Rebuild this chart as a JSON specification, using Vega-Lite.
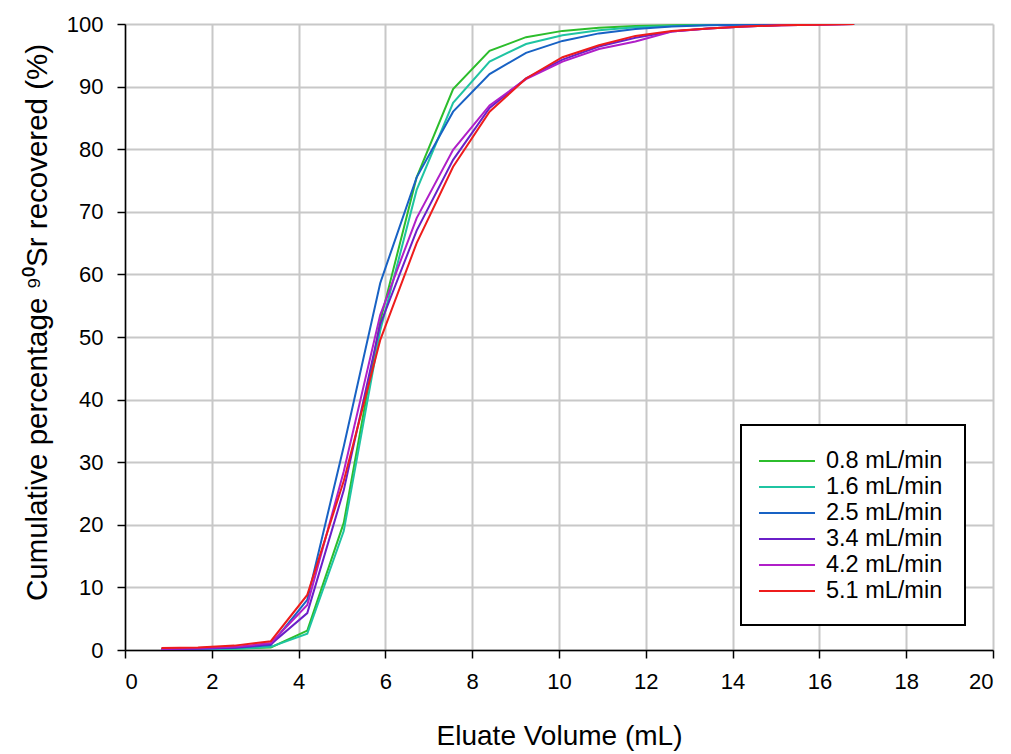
{
  "$schema": "https://vega.github.io/schema/vega-lite/v6.json",
  "width": 868,
  "height": 626,
  "autosize": "none",
  "padding": {"left": 125, "top": 24, "right": 18, "bottom": 104},
  "background": "white",
  "config": {
    "font": "Liberation Sans",
    "view": {"stroke": null},
    "axis": {
      "grid": true,
      "gridColor": "#c8c8c8",
      "gridWidth": 2,
      "domainColor": "black",
      "domainWidth": 1.5,
      "tickColor": "black",
      "tickWidth": 1.5,
      "tickSize": 8,
      "labelFont": "Liberation Sans",
      "labelFontSize": 22,
      "labelColor": "black",
      "titleFont": "Liberation Sans",
      "titleFontWeight": "normal",
      "titleColor": "black"
    }
  },
  "data": {
    "values": [
      {"rate": "0.8 mL/min", "v": 0.84, "p": 0.1}, {"rate": "0.8 mL/min", "v": 1.68, "p": 0.1},
      {"rate": "0.8 mL/min", "v": 2.52, "p": 0.2}, {"rate": "0.8 mL/min", "v": 3.36, "p": 0.4},
      {"rate": "0.8 mL/min", "v": 4.2, "p": 3.1}, {"rate": "0.8 mL/min", "v": 5.04, "p": 20.3},
      {"rate": "0.8 mL/min", "v": 5.88, "p": 52.5}, {"rate": "0.8 mL/min", "v": 6.72, "p": 75.5},
      {"rate": "0.8 mL/min", "v": 7.56, "p": 89.6}, {"rate": "0.8 mL/min", "v": 8.4, "p": 95.7},
      {"rate": "0.8 mL/min", "v": 9.24, "p": 97.9}, {"rate": "0.8 mL/min", "v": 10.08, "p": 98.9},
      {"rate": "0.8 mL/min", "v": 10.92, "p": 99.4}, {"rate": "0.8 mL/min", "v": 11.76, "p": 99.7},
      {"rate": "0.8 mL/min", "v": 12.6, "p": 99.8}, {"rate": "0.8 mL/min", "v": 13.44, "p": 99.9},
      {"rate": "0.8 mL/min", "v": 14.28, "p": 99.95}, {"rate": "0.8 mL/min", "v": 15.12, "p": 100},
      {"rate": "0.8 mL/min", "v": 15.96, "p": 100}, {"rate": "0.8 mL/min", "v": 16.8, "p": 100},

      {"rate": "1.6 mL/min", "v": 0.84, "p": 0.1}, {"rate": "1.6 mL/min", "v": 1.68, "p": 0.1},
      {"rate": "1.6 mL/min", "v": 2.52, "p": 0.2}, {"rate": "1.6 mL/min", "v": 3.36, "p": 0.5},
      {"rate": "1.6 mL/min", "v": 4.2, "p": 2.6}, {"rate": "1.6 mL/min", "v": 5.04, "p": 19.0},
      {"rate": "1.6 mL/min", "v": 5.88, "p": 51.0}, {"rate": "1.6 mL/min", "v": 6.72, "p": 73.5},
      {"rate": "1.6 mL/min", "v": 7.56, "p": 87.4}, {"rate": "1.6 mL/min", "v": 8.4, "p": 94.0},
      {"rate": "1.6 mL/min", "v": 9.24, "p": 96.8}, {"rate": "1.6 mL/min", "v": 10.08, "p": 98.2},
      {"rate": "1.6 mL/min", "v": 10.92, "p": 99.0}, {"rate": "1.6 mL/min", "v": 11.76, "p": 99.5},
      {"rate": "1.6 mL/min", "v": 12.6, "p": 99.7}, {"rate": "1.6 mL/min", "v": 13.44, "p": 99.85},
      {"rate": "1.6 mL/min", "v": 14.28, "p": 99.9}, {"rate": "1.6 mL/min", "v": 15.12, "p": 100},
      {"rate": "1.6 mL/min", "v": 15.96, "p": 100}, {"rate": "1.6 mL/min", "v": 16.8, "p": 100},

      {"rate": "2.5 mL/min", "v": 0.84, "p": 0.1}, {"rate": "2.5 mL/min", "v": 1.68, "p": 0.2},
      {"rate": "2.5 mL/min", "v": 2.52, "p": 0.3}, {"rate": "2.5 mL/min", "v": 3.36, "p": 0.8},
      {"rate": "2.5 mL/min", "v": 4.2, "p": 8.0}, {"rate": "2.5 mL/min", "v": 5.04, "p": 32.5},
      {"rate": "2.5 mL/min", "v": 5.88, "p": 58.6}, {"rate": "2.5 mL/min", "v": 6.72, "p": 75.5},
      {"rate": "2.5 mL/min", "v": 7.56, "p": 86.0}, {"rate": "2.5 mL/min", "v": 8.4, "p": 92.0},
      {"rate": "2.5 mL/min", "v": 9.24, "p": 95.4}, {"rate": "2.5 mL/min", "v": 10.08, "p": 97.3},
      {"rate": "2.5 mL/min", "v": 10.92, "p": 98.5}, {"rate": "2.5 mL/min", "v": 11.76, "p": 99.2},
      {"rate": "2.5 mL/min", "v": 12.6, "p": 99.6}, {"rate": "2.5 mL/min", "v": 13.44, "p": 99.8},
      {"rate": "2.5 mL/min", "v": 14.28, "p": 99.9}, {"rate": "2.5 mL/min", "v": 15.12, "p": 100},
      {"rate": "2.5 mL/min", "v": 15.96, "p": 100}, {"rate": "2.5 mL/min", "v": 16.8, "p": 100},

      {"rate": "3.4 mL/min", "v": 0.84, "p": 0.1}, {"rate": "3.4 mL/min", "v": 1.68, "p": 0.2},
      {"rate": "3.4 mL/min", "v": 2.52, "p": 0.4}, {"rate": "3.4 mL/min", "v": 3.36, "p": 0.9},
      {"rate": "3.4 mL/min", "v": 4.2, "p": 5.9}, {"rate": "3.4 mL/min", "v": 5.04, "p": 25.5},
      {"rate": "3.4 mL/min", "v": 5.88, "p": 52.0}, {"rate": "3.4 mL/min", "v": 6.72, "p": 67.0},
      {"rate": "3.4 mL/min", "v": 7.56, "p": 78.3}, {"rate": "3.4 mL/min", "v": 8.4, "p": 86.6},
      {"rate": "3.4 mL/min", "v": 9.24, "p": 91.3}, {"rate": "3.4 mL/min", "v": 10.08, "p": 94.3},
      {"rate": "3.4 mL/min", "v": 10.92, "p": 96.4}, {"rate": "3.4 mL/min", "v": 11.76, "p": 97.8},
      {"rate": "3.4 mL/min", "v": 12.6, "p": 98.8}, {"rate": "3.4 mL/min", "v": 13.44, "p": 99.3},
      {"rate": "3.4 mL/min", "v": 14.28, "p": 99.6}, {"rate": "3.4 mL/min", "v": 15.12, "p": 99.8},
      {"rate": "3.4 mL/min", "v": 15.96, "p": 99.9}, {"rate": "3.4 mL/min", "v": 16.8, "p": 100},

      {"rate": "4.2 mL/min", "v": 0.84, "p": 0.2}, {"rate": "4.2 mL/min", "v": 1.68, "p": 0.3},
      {"rate": "4.2 mL/min", "v": 2.52, "p": 0.5}, {"rate": "4.2 mL/min", "v": 3.36, "p": 1.1},
      {"rate": "4.2 mL/min", "v": 4.2, "p": 7.2}, {"rate": "4.2 mL/min", "v": 5.04, "p": 28.5},
      {"rate": "4.2 mL/min", "v": 5.88, "p": 53.5}, {"rate": "4.2 mL/min", "v": 6.72, "p": 69.0},
      {"rate": "4.2 mL/min", "v": 7.56, "p": 79.9}, {"rate": "4.2 mL/min", "v": 8.4, "p": 87.0},
      {"rate": "4.2 mL/min", "v": 9.24, "p": 91.2}, {"rate": "4.2 mL/min", "v": 10.08, "p": 94.0},
      {"rate": "4.2 mL/min", "v": 10.92, "p": 96.0}, {"rate": "4.2 mL/min", "v": 11.76, "p": 97.2},
      {"rate": "4.2 mL/min", "v": 12.6, "p": 98.8}, {"rate": "4.2 mL/min", "v": 13.44, "p": 99.3},
      {"rate": "4.2 mL/min", "v": 14.28, "p": 99.6}, {"rate": "4.2 mL/min", "v": 15.12, "p": 99.8},
      {"rate": "4.2 mL/min", "v": 15.96, "p": 99.9}, {"rate": "4.2 mL/min", "v": 16.8, "p": 100},

      {"rate": "5.1 mL/min", "v": 0.84, "p": 0.3}, {"rate": "5.1 mL/min", "v": 1.68, "p": 0.4},
      {"rate": "5.1 mL/min", "v": 2.52, "p": 0.7}, {"rate": "5.1 mL/min", "v": 3.36, "p": 1.4},
      {"rate": "5.1 mL/min", "v": 4.2, "p": 8.8}, {"rate": "5.1 mL/min", "v": 5.04, "p": 27.0},
      {"rate": "5.1 mL/min", "v": 5.88, "p": 49.5}, {"rate": "5.1 mL/min", "v": 6.72, "p": 65.0},
      {"rate": "5.1 mL/min", "v": 7.56, "p": 77.2}, {"rate": "5.1 mL/min", "v": 8.4, "p": 86.0},
      {"rate": "5.1 mL/min", "v": 9.24, "p": 91.3}, {"rate": "5.1 mL/min", "v": 10.08, "p": 94.7},
      {"rate": "5.1 mL/min", "v": 10.92, "p": 96.6}, {"rate": "5.1 mL/min", "v": 11.76, "p": 98.1},
      {"rate": "5.1 mL/min", "v": 12.6, "p": 98.9}, {"rate": "5.1 mL/min", "v": 13.44, "p": 99.3},
      {"rate": "5.1 mL/min", "v": 14.28, "p": 99.6}, {"rate": "5.1 mL/min", "v": 15.12, "p": 99.8},
      {"rate": "5.1 mL/min", "v": 15.96, "p": 99.9}, {"rate": "5.1 mL/min", "v": 16.8, "p": 100}
    ]
  },
  "mark": {"type": "line", "strokeWidth": 2, "clip": true},
  "encoding": {
    "x": {
      "field": "v",
      "type": "quantitative",
      "title": "Eluate Volume (mL)",
      "scale": {"domain": [0, 20], "nice": false},
      "axis": {
        "values": [0, 2, 4, 6, 8, 10, 12, 14, 16, 18, 20],
        "labelPadding": 13,
        "titleFontSize": 28,
        "titlePadding": 30
      }
    },
    "y": {
      "field": "p",
      "type": "quantitative",
      "title": "Cumulative percentage ⁹⁰Sr recovered (%)",
      "scale": {"domain": [0, 100], "nice": false},
      "axis": {
        "values": [0, 10, 20, 30, 40, 50, 60, 70, 80, 90, 100],
        "labelPadding": 14,
        "titleFontSize": 29.5,
        "titlePadding": 14,
        "titleY": 298
      }
    },
    "color": {
      "field": "rate",
      "type": "nominal",
      "title": null,
      "scale": {
        "domain": ["0.8 mL/min", "1.6 mL/min", "2.5 mL/min", "3.4 mL/min", "4.2 mL/min", "5.1 mL/min"],
        "range": ["#2cbd2c", "#1fc4a2", "#1862c4", "#6a1fc8", "#b01fc8", "#ee1c1c"]
      },
      "legend": {
        "orient": "none",
        "legendX": 616,
        "legendY": 401,
        "padding": 22,
        "fillColor": "white",
        "strokeColor": "black",
        "cornerRadius": 0,
        "symbolType": "M-1.385,0H2.923",
        "symbolSize": 676,
        "symbolStrokeWidth": 2,
        "labelFont": "Liberation Sans",
        "labelFontSize": 23.5,
        "labelColor": "black",
        "labelOffset": 35,
        "rowPadding": 0,
        "labelLimit": 300,
        "encode": {"legend": {"update": {"strokeWidth": {"value": 2}}}}
      }
    }
  }
}
